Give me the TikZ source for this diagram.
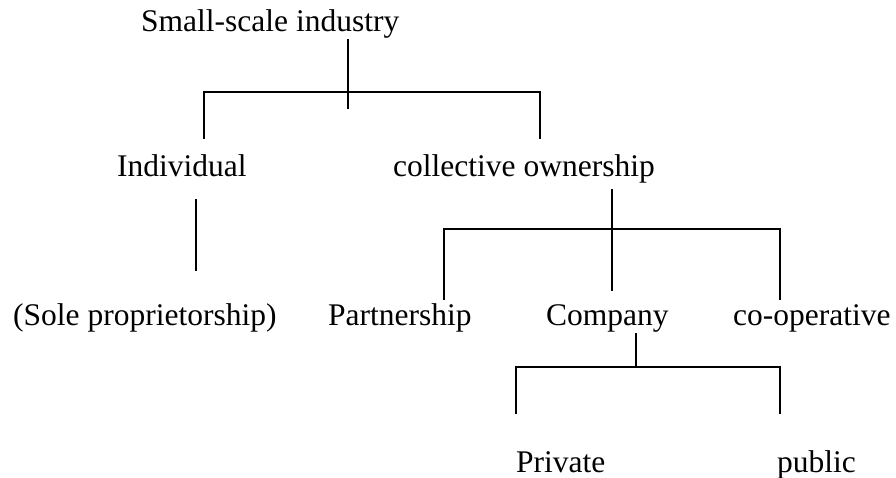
\documentclass[tikz,border=0pt]{standalone}
\usepackage{fontspec}
\setmainfont{Liberation Serif}
\begin{document}
\begin{tikzpicture}[x=1pt,y=1pt,
  lbl/.style={anchor=base west,inner sep=0pt,font=\fontsize{31.5}{36}\selectfont},
  conn/.style={line width=1.8pt,line cap=butt}]
\useasboundingbox (0,0) rectangle (896,477);
% labels
\node[lbl] (ssi) at (141,445) {Small-scale industry};
\node[lbl] (ind) at (117,300) {Individual};
\node[lbl] (col) at (393,300) {collective ownership};
\node[lbl] (sole) at (13,152) {(Sole proprietorship)};
\node[lbl] (part) at (328,152) {Partnership};
\node[lbl] (comp) at (546,152) {Company};
\node[lbl] (coop) at (733,152) {co-operative};
\node[lbl] (priv) at (516,5) {Private};
\node[lbl] (pub) at (777,5) {public};
% connector points
\coordinate (t0) at (348,438);
\coordinate (t1) at (348,368);
\coordinate (tl) at (204,385);
\coordinate (tr) at (540,385);
\coordinate (tlb) at (204,338);
\coordinate (trb) at (540,338);
\coordinate (i0) at (196,278);
\coordinate (i1) at (196,206);
\coordinate (c0) at (612,288);
\coordinate (c1) at (612,186);
\coordinate (cl) at (444,248);
\coordinate (cr) at (780,248);
\coordinate (clb) at (444,177);
\coordinate (crb) at (780,177);
\coordinate (k0) at (636,144);
\coordinate (k1) at (636,110);
\coordinate (kl) at (516,110);
\coordinate (kr) at (780,110);
\coordinate (klb) at (516,63);
\coordinate (krb) at (780,63);
% connectors
\draw[conn] (t0) -- (t1);
\draw[conn] (tlb) -- (tl) -- (tr) -- (trb);
\draw[conn] (i0) -- (i1);
\draw[conn] (c0) -- (c1);
\draw[conn] (clb) -- (cl) -- (cr) -- (crb);
\draw[conn] (k0) -- (k1);
\draw[conn] (klb) -- (kl) -- (kr) -- (krb);
\end{tikzpicture}
\end{document}
